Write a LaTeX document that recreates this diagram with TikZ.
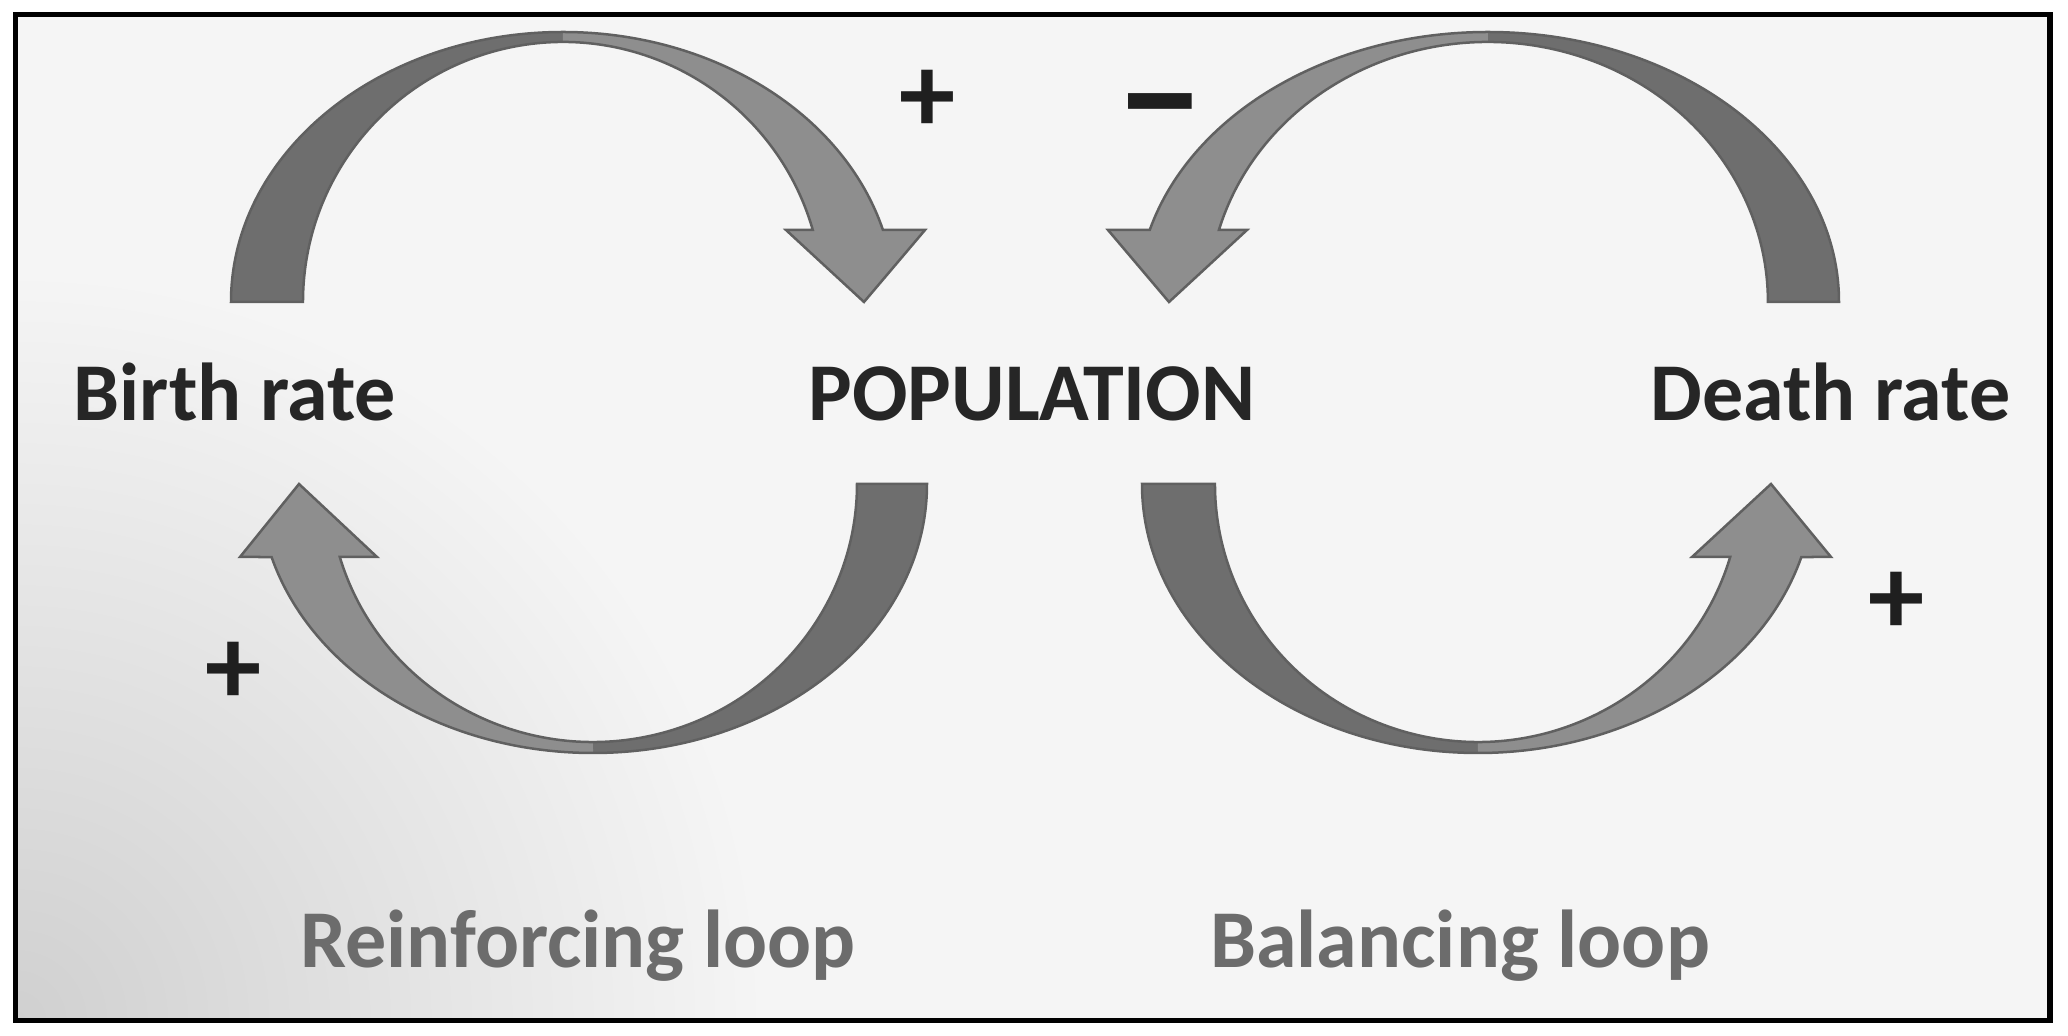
\documentclass[tikz,border=0pt]{standalone}
\usepackage{fontspec}
\setmainfont{Carlito}
\usetikzlibrary{calc,shadings}
\definecolor{bandDark}{RGB}{110,110,110}
\definecolor{bandLight}{RGB}{142,142,142}
\definecolor{bandEdge}{RGB}{96,96,96}
\definecolor{txtDark}{RGB}{38,38,38}
\definecolor{txtGray}{RGB}{108,108,108}
\definecolor{bgMain}{RGB}{245,245,245}
\definecolor{bgCorner}{RGB}{208,208,208}
\begin{document}
\begin{tikzpicture}[x=0.01cm,y=0.01cm,
  darkpart/.style={fill=bandDark},
  lightpart/.style={fill=bandLight},
  bandedge/.style={draw=bandEdge, line width=0.025cm, line join=miter},
  lbl/.style={inner sep=0pt, font=\bfseries\fontsize{23.35}{28}\selectfont, text=txtDark},
  looplbl/.style={lbl, text=txtGray},
  sign/.style={inner sep=0pt, font=\bfseries\fontsize{32}{38}\selectfont, text=black!88}]

\useasboundingbox (0,0) rectangle (2068,1036);
\fill[white] (0,0) rectangle (2068,1036);
\begin{scope}
  \clip (15.5,15.5) rectangle (2050,1021.5);
  \fill[bgMain] (15.5,15.5) rectangle (2050,1021.5);
  \shade[inner color=bgCorner, outer color=bgMain] (15.5,15.5) circle[radius=750];
\end{scope}
\draw[black, line width=0.055cm] (15.5,15.5) rectangle (2050,1021.5);

% centres of the four curved arrows
\coordinate (TLc) at (563,734);
\coordinate (TRc) at (1488,734);
\coordinate (BLc) at (593,552);
\coordinate (BRc) at (1478,552);

% top-left arrow (Birth rate -> POPULATION)
\path[darkpart] (231,734) arc[start angle=180, end angle=90, x radius=332, y radius=270]
  -- (563,994) arc[start angle=90, end angle=180, x radius=260, y radius=260] -- cycle;
\path[lightpart] (812.8,806) arc[start angle=16.08, end angle=90, x radius=260, y radius=260]
  -- (563,1004) arc[start angle=90, end angle=15.47, x radius=332, y radius=270]
  -- (925,806) -- (864,734) -- (786,806) -- cycle;
\path[bandedge] (231,734) arc[start angle=180, end angle=15.47, x radius=332, y radius=270]
  -- (925,806) -- (864,734) -- (786,806) -- (812.8,806)
  arc[start angle=16.08, end angle=180, x radius=260, y radius=260] -- cycle;

% top-right arrow (Death rate -> POPULATION)
\path[darkpart] (1839,734) arc[start angle=0, end angle=90, x radius=351, y radius=270]
  -- (1488,994) arc[start angle=90, end angle=0, x radius=280, y radius=260] -- cycle;
\path[lightpart] (1218.9,806) arc[start angle=163.92, end angle=90, x radius=280, y radius=260]
  -- (1488,1004) arc[start angle=90, end angle=164.53, x radius=351, y radius=270]
  -- (1108,806) -- (1169,734) -- (1247,806) -- cycle;
\path[bandedge] (1839,734) arc[start angle=0, end angle=164.53, x radius=351, y radius=270]
  -- (1108,806) -- (1169,734) -- (1247,806) -- (1218.9,806)
  arc[start angle=163.92, end angle=0, x radius=280, y radius=260] -- cycle;

% bottom-left arrow (POPULATION -> Birth rate)
\path[darkpart] (927,552) arc[start angle=0, end angle=-90, x radius=334, y radius=269]
  -- (593,294) arc[start angle=-90, end angle=0, x radius=264, y radius=258] -- cycle;
\path[lightpart] (339.8,479) arc[start angle=196.44, end angle=270, x radius=264, y radius=258]
  -- (593,283) arc[start angle=270, end angle=195.75, x radius=334, y radius=269]
  -- (240,479) -- (299,552) -- (377,479) -- cycle;
\path[bandedge] (927,552) arc[start angle=360, end angle=195.75, x radius=334, y radius=269]
  -- (240,479) -- (299,552) -- (377,479) -- (339.8,479)
  arc[start angle=196.44, end angle=360, x radius=264, y radius=258] -- cycle;

% bottom-right arrow (POPULATION -> Death rate)
\path[darkpart] (1142,552) arc[start angle=180, end angle=270, x radius=336, y radius=269]
  -- (1478,294) arc[start angle=270, end angle=180, x radius=263, y radius=258] -- cycle;
\path[lightpart] (1730.2,479) arc[start angle=343.56, end angle=270, x radius=263, y radius=258]
  -- (1478,283) arc[start angle=270, end angle=344.25, x radius=336, y radius=269]
  -- (1831,479) -- (1771,552) -- (1692,479) -- cycle;
\path[bandedge] (1142,552) arc[start angle=180, end angle=344.25, x radius=336, y radius=269]
  -- (1831,479) -- (1771,552) -- (1692,479) -- (1730.2,479)
  arc[start angle=343.56, end angle=180, x radius=263, y radius=258] -- cycle;

% labels
\node[lbl, anchor=base west] (birth) at (73,615) {Birth rate};
\node[lbl, anchor=base] (pop) at (1032,615) {POPULATION};
\node[lbl, anchor=base east] (death) at (2011,615) {Death rate};
\node[looplbl, anchor=base] (reinf) at (578,68) {Reinforcing loop};
\node[looplbl, anchor=base] (bal) at (1460,68) {Balancing loop};

% polarity signs
\node[sign] (plusTop) at (928,935) {+};
\node[sign] (minusTop) at (1160,913) {\scalebox{1.6}[1.6]{–}};
\node[sign] (plusBL) at (234,363) {+};
\node[sign] (plusBR) at (1897,433) {+};
\end{tikzpicture}
\end{document}
